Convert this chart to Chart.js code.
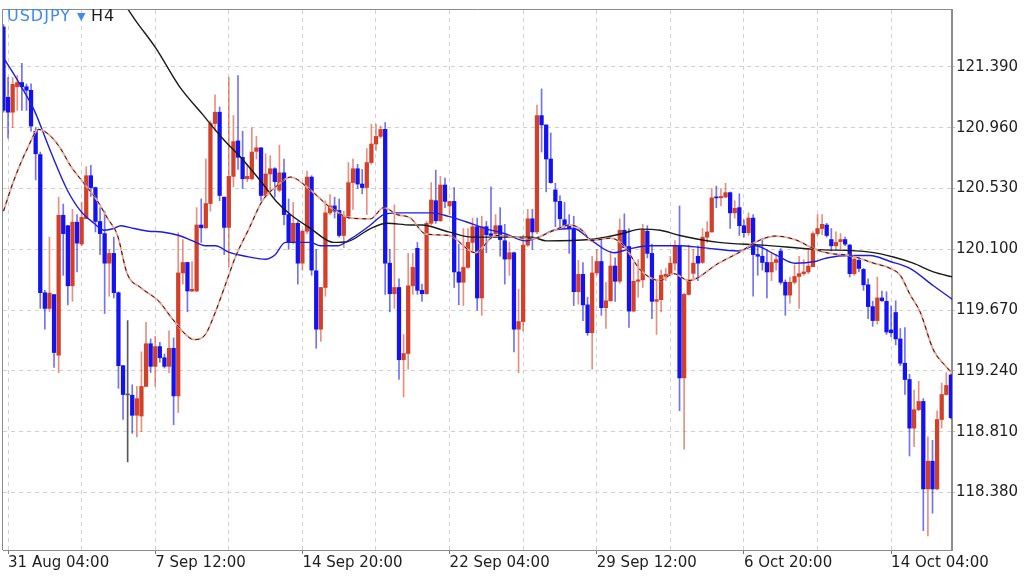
<!DOCTYPE html>
<html>
<head>
<meta charset="utf-8">
<script src="https://cdn.jsdelivr.net/npm/chart.js@4.4.1/dist/chart.umd.min.js"></script>
<style>
  html, body { margin: 0; padding: 0; background: #fff; }
  #wrap { width: 1024px; height: 576px; position: relative; }
</style>
</head>
<body>
<div id="wrap"><canvas id="chart"></canvas></div>
<script>
const symbol = "USDJPY";
const period = "H4";

// one label every 32 bars, starting at bar 1
const xLabels = ["31 Aug 04:00", "7 Sep 12:00", "14 Sep 20:00", "22 Sep 04:00", "29 Sep 12:00", "6 Oct 20:00", "14 Oct 04:00"];
const yTicks = [118.38, 118.81, 119.24, 119.67, 120.10, 120.53, 120.96, 121.39];

// ---------- candles (H4) ----------
const opens = [
  121.673,121.176,121.07,121.25,121.28,121.25,121.225,120.935,120.77,119.793,
  119.682,119.78,119.351,120.341,120.267,119.842,120.292,120.137,120.316,120.621,
  120.537,120.297,120.211,120.002,120.071,119.793,119.277,119.07,119.068,118.926,
  118.921,119.13,119.432,119.272,119.412,119.333,119.272,119.40,119.063,119.933,
  120.007,119.805,119.805,120.272,120.252,120.424,120.99,121.07,120.469,120.255,
  120.616,120.867,120.751,120.599,120.599,120.793,120.818,120.481,120.633,120.67,
  120.518,120.641,120.346,120.154,120.284,120.002,120.228,120.611,119.948,119.535,
  119.83,120.358,120.407,120.375,120.198,120.334,120.572,120.67,120.562,120.537,
  120.714,120.845,120.899,120.948,120.002,119.786,119.83,119.319,119.363,119.842,
  120.107,119.81,119.786,120.284,120.444,120.302,120.555,120.407,120.439,119.94,
  119.867,119.972,120.149,120.26,119.756,120.26,120.21,120.21,120.267,120.161,
  120.031,120.076,119.535,119.589,120.13,120.316,120.223,121.046,120.98,120.739,
  120.52,120.439,120.309,120.267,120.247,119.80,119.923,119.707,119.51,119.933,
  120.014,119.687,119.736,119.982,119.874,120.235,120.12,119.663,119.874,119.884,
  120.228,120.071,119.732,119.744,119.908,119.923,120.002,120.125,119.191,119.781,
  119.93,120.051,120.007,120.186,120.223,120.469,120.464,120.469,120.501,120.358,
  120.395,120.267,120.218,120.321,120.063,120.051,120.007,119.94,120.007,120.088,
  119.867,119.776,119.867,119.908,119.928,119.94,119.977,120.211,120.247,120.272,
  120.169,120.125,120.154,120.169,120.13,119.928,120.022,119.958,119.849,119.695,
  119.596,119.756,119.732,119.53,119.653,119.466,119.294,119.179,118.835,118.965,
  119.024,118.405,118.601,118.405,118.896,119.073,119.211
];
const highs = [
  121.69,121.316,121.316,121.33,121.415,121.27,121.27,120.96,120.788,119.81,
  120.186,119.78,120.469,120.42,120.27,120.383,120.346,120.432,120.685,120.695,
  120.54,120.395,120.37,120.10,120.186,119.80,119.28,119.596,119.142,119.13,
  119.375,119.584,119.466,119.486,119.442,119.36,119.523,119.474,120.218,120.169,
  120.01,120.014,120.395,120.456,120.739,121.009,121.193,121.107,120.47,121.316,
  121.046,121.329,120.935,120.702,120.96,120.899,120.82,120.776,120.763,120.678,
  120.837,120.739,120.456,120.432,120.297,120.235,120.653,120.621,120.10,119.83,
  120.444,120.488,120.469,120.456,120.37,120.714,120.739,120.702,120.665,120.813,
  120.985,120.985,120.972,120.997,120.10,120.415,119.891,119.498,120.071,120.071,
  120.149,119.854,120.297,120.572,120.66,120.616,120.604,120.44,120.537,120.137,
  120.247,120.247,120.321,120.321,120.334,120.297,120.542,120.346,120.395,120.277,
  120.149,120.08,119.818,120.198,120.383,120.383,121.12,121.235,120.98,120.923,
  120.567,120.481,120.432,120.346,120.334,120.022,120.007,119.761,120.051,120.10,
  120.186,119.867,120.088,120.039,120.316,120.351,120.247,120.002,120.027,120.277,
  120.267,120.137,119.879,119.953,119.965,120.051,120.161,120.407,119.79,120.13,
  120.10,120.125,120.247,120.297,120.53,120.547,120.53,120.567,120.505,120.444,
  120.493,120.309,120.358,120.346,120.125,120.179,120.10,120.076,120.063,120.105,
  119.884,119.904,119.99,120.051,120.027,120.10,120.223,120.346,120.346,120.284,
  120.247,120.223,120.211,120.186,120.137,120.051,120.039,119.965,119.891,119.732,
  119.904,119.805,119.80,119.70,119.736,119.54,119.547,119.216,119.105,119.166,
  119.044,118.773,118.749,118.958,119.154,119.228,119.22
];
const lows = [
  121.07,120.886,120.96,121.083,121.083,121.083,120.935,120.591,119.682,119.535,
  119.66,119.265,119.228,119.916,119.707,119.732,119.94,120.125,120.316,120.474,
  120.223,120.063,119.646,119.768,119.756,119.117,118.896,118.596,118.798,118.773,
  118.81,119.13,119.228,119.13,119.302,119.26,119.228,118.859,118.945,119.854,
  119.658,119.80,119.80,120.149,120.247,120.37,120.935,120.444,120.063,119.977,
  120.542,120.665,120.53,120.579,120.591,120.739,120.444,120.469,120.493,120.469,
  120.506,120.272,120.10,120.137,119.854,119.953,120.211,119.916,119.40,119.449,
  119.768,120.346,120.321,120.186,120.112,120.316,120.383,120.53,120.493,120.346,
  120.702,120.80,120.886,119.781,119.658,119.682,119.179,119.056,119.252,119.781,
  119.781,119.732,119.781,120.272,120.284,120.297,120.395,120.346,119.83,119.707,
  119.702,119.965,120.076,119.67,119.633,120.076,120.174,120.198,120.051,119.854,
  119.916,119.375,119.228,119.523,120.12,120.10,120.211,120.788,120.506,120.567,
  120.26,120.26,120.247,120.071,119.702,119.712,119.596,119.491,119.252,119.916,
  119.633,119.54,119.732,119.732,119.859,120.11,119.547,119.658,119.761,119.83,
  120.039,119.609,119.498,119.658,119.879,119.916,119.953,118.958,118.687,119.776,
  119.891,119.879,120.0,120.149,120.22,120.395,120.407,120.469,120.247,120.321,
  120.198,120.186,120.198,119.768,119.916,119.953,119.756,119.879,119.953,119.854,
  119.633,119.719,119.854,119.682,119.916,119.928,119.977,120.198,120.203,120.186,
  120.088,120.10,120.10,120.125,119.904,119.916,119.94,119.81,119.609,119.555,
  119.572,119.732,119.498,119.48,119.424,119.277,119.073,118.638,118.704,118.958,
  118.11,118.073,118.233,118.40,118.835,119.068,118.90
];
const closes = [
  121.083,121.07,121.267,121.28,121.25,121.225,120.972,120.776,119.793,119.682,
  119.79,119.37,120.341,120.211,119.842,120.292,120.144,120.326,120.621,120.537,
  120.297,120.211,120.002,120.071,119.793,119.277,119.073,119.07,118.926,119.044,
  119.13,119.432,119.272,119.412,119.333,119.272,119.40,119.063,119.933,120.007,
  119.805,119.817,120.272,120.252,120.424,120.99,121.07,120.481,120.255,120.616,
  120.862,120.751,120.599,120.616,120.788,120.818,120.481,120.633,120.67,120.579,
  120.641,120.346,120.154,120.284,120.002,120.228,120.611,119.953,119.535,119.83,
  120.358,120.407,120.37,120.198,120.334,120.572,120.67,120.562,120.537,120.714,
  120.845,120.899,120.948,120.002,119.786,119.83,119.319,119.363,119.842,119.972,
  119.81,119.786,120.284,120.449,120.302,120.555,120.439,120.439,119.94,119.867,
  119.972,120.149,120.26,119.756,120.26,120.203,120.198,120.267,120.169,120.031,
  120.076,119.535,119.589,120.13,120.316,120.223,121.046,120.98,120.739,120.572,
  120.439,120.316,120.267,120.247,119.80,119.923,119.707,119.51,119.933,120.014,
  119.687,119.736,119.982,119.874,120.235,120.112,119.663,119.874,119.884,120.235,
  120.071,119.732,119.744,119.916,119.923,120.002,120.125,119.191,119.781,119.884,
  120.002,120.002,120.186,120.223,120.464,120.464,120.474,120.501,120.358,120.39,
  120.267,120.218,120.321,120.063,120.051,120.007,119.94,120.007,120.027,119.867,
  119.776,119.867,119.908,119.928,119.94,119.982,120.211,120.247,120.277,120.198,
  120.125,120.149,120.169,120.137,119.928,120.031,119.965,119.849,119.695,119.596,
  119.756,119.736,119.515,119.51,119.466,119.294,119.179,118.835,118.965,119.024,
  118.405,118.601,118.405,118.896,119.073,119.137,118.909
];

// ---------- moving averages (x = bar index) ----------
const slowX = [22, 28.7, 33.1, 38.2, 43.2, 47.6, 51.9, 56.3, 59.2, 62.4, 66.8, 71.8, 74.7, 79.8, 83.4, 88.5, 91, 96.8, 101.9, 107, 114.9, 118, 127.6, 134.4, 138.5, 142.8, 147.1, 155.5, 164.9, 176.5, 188.4, 193.5, 197.8, 202.2, 206.4];
const slowY = [122.05, 121.72, 121.525, 121.255, 121.058, 120.886, 120.739, 120.567, 120.444, 120.346, 120.247, 120.149, 120.154, 120.247, 120.284, 120.272, 120.272, 120.223, 120.186, 120.186, 120.186, 120.16, 120.169, 120.21, 120.243, 120.235, 120.198, 120.149, 120.13, 120.10, 120.08, 120.046, 120.002, 119.94, 119.904];

const midX = [0, 3.8, 6.7, 10.3, 13.9, 16.8, 19.7, 21.9, 24, 25.5, 28.4, 31.6, 34.5, 38.2, 41, 43.9, 46.1, 49, 52.6, 57, 59, 61.3, 66.8, 68.9, 72.6, 75.5, 79.8, 82.7, 85.6, 88.5, 93.2, 96.8, 100.4, 104.8, 109.1, 113.5, 116.4, 119.6, 124, 127.6, 132.7, 136.3, 140.6, 147.1, 151.9, 159.8, 163.4, 167.8, 172.1, 176.5, 179, 184.1, 188.4, 192.8, 197.1, 202.2, 206.4];
const midY = [121.456, 121.255, 121.083, 120.788, 120.518, 120.37, 120.284, 120.235, 120.247, 120.267, 120.247, 120.228, 120.223, 120.198, 120.161, 120.125, 120.125, 120.08, 120.051, 120.03, 120.06, 120.149, 120.149, 120.125, 120.125, 120.174, 120.272, 120.346, 120.358, 120.358, 120.358, 120.333, 120.297, 120.247, 120.21, 120.16, 120.186, 120.235, 120.247, 120.169, 120.076, 120.105, 120.125, 120.125, 120.112, 120.088, 120.125, 120.063, 120.002, 120.014, 120.039, 120.056, 120.056, 120.014, 119.965, 119.842, 119.744];

const fastX = [0, 2.3, 5.2, 7.7, 10.3, 12.4, 14.6, 17.5, 20.4, 22.6, 24.8, 26.9, 29.8, 33.8, 36.7, 39.6, 41.4, 43.9, 46.1, 48.3, 50.5, 53.4, 56.3, 59.2, 62.4, 66.8, 71.1, 75.5, 79.8, 82.7, 85.6, 88.5, 91.7, 96.8, 102.6, 107, 111.3, 114.9, 118.9, 123.2, 126.2, 127.6, 132, 134.9, 138.5, 142.8, 145.7, 149, 155.5, 160.5, 163.4, 167.8, 172.1, 176.5, 179.7, 184.1, 189.2, 192.8, 195, 197.1, 199.3, 202.2, 205.1, 206.4];
const fastY = [120.37, 120.591, 120.813, 120.948, 120.899, 120.813, 120.69, 120.567, 120.444, 120.321, 120.198, 119.928, 119.83, 119.732, 119.609, 119.498, 119.461, 119.498, 119.658, 119.854, 120.051, 120.247, 120.444, 120.542, 120.611, 120.518, 120.395, 120.321, 120.316, 120.395, 120.346, 120.321, 120.21, 120.198, 120.076, 120.198, 120.186, 120.174, 120.223, 120.272, 120.223, 120.161, 120.179, 120.125, 119.953, 119.879, 119.928, 119.879, 120.002, 120.088, 120.149, 120.194, 120.169, 120.10, 120.071, 120.056, 120.002, 119.965, 119.916, 119.781, 119.658, 119.388, 119.265, 119.22];

const RED = "#d3402a";
const BLUE = "#1212f2";
const DOJI = "#555555";

function candleColor(i) {
    const d = closes[i] - opens[i];
    if (Math.abs(d) < 0.003) return DOJI;
    return d > 0 ? RED : BLUE;
}
function wickColor(i) {
    const d = closes[i] - opens[i];
    if (Math.abs(d) < 0.003) return "rgba(60,60,60,0.85)";
    return d > 0 ? "rgba(214,70,45,0.6)" : "rgba(20,20,240,0.6)";
}

const wickData = opens.map((o, i) => ({ x: i, y: [lows[i], highs[i]] }));
const bodyData = opens.map((o, i) => ({ x: i, y: [Math.min(o, closes[i]), Math.max(o, closes[i])] }));
const toPoints = (xs, ys) => xs.map((x, i) => ({ x: x, y: ys[i] }));

const gridBars = [];
for (let b = 1; b <= 206; b += 16) gridBars.push(b);

const isLabelled = v => Number.isInteger((v - 1) / 32);

const tickFont = { family: "DejaVu Sans", size: 15 };

// top and left frame lines
const framePlugin = {
    id: "frame",
    beforeDatasetsDraw(chart) {
        const { ctx, chartArea: a } = chart;
        ctx.save();
        ctx.strokeStyle = "#8c8c8c";
        ctx.lineWidth = 1;
        ctx.beginPath();
        ctx.moveTo(a.left - 0.5, a.bottom);
        ctx.lineTo(a.left - 0.5, a.top - 0.5);
        ctx.lineTo(a.right, a.top - 0.5);
        ctx.stroke();
        ctx.restore();
    }
};

// symbol / timeframe caption
const captionPlugin = {
    id: "caption",
    afterDraw(chart) {
        const ctx = chart.ctx;
        ctx.save();
        ctx.textBaseline = "alphabetic";
        ctx.textAlign = "left";
        ctx.font = '16px "DejaVu Sans"';
        ctx.letterSpacing = "1px";
        ctx.fillStyle = "#3d8af2";
        ctx.fillText(symbol, 7, 21);
        ctx.letterSpacing = "0px";
        ctx.font = '11px "DejaVu Sans"';
        ctx.fillText("\u25BC", 77, 20);
        ctx.font = '16px "DejaVu Sans"';
        ctx.letterSpacing = "1px";
        ctx.fillStyle = "#1e1e1e";
        ctx.fillText(period, 91, 21);
        ctx.restore();
    }
};

const lineBase = { type: "line", pointRadius: 0, fill: false, cubicInterpolationMode: "monotone" };

new Chart(document.getElementById("chart"), {
    type: "bar",
    data: {
        datasets: [
            Object.assign({}, lineBase, { label: "fast dash", data: toPoints(fastX, fastY), borderColor: "#1a1a1a", borderWidth: 1, borderDash: [4, 4], order: 0 }),
            Object.assign({}, lineBase, { label: "fast", data: toPoints(fastX, fastY), borderColor: "#f2a090", borderWidth: 1.8, order: 1 }),
            Object.assign({}, lineBase, { label: "mid", data: toPoints(midX, midY), borderColor: "#1c1ce6", borderWidth: 1.4, order: 2 }),
            Object.assign({}, lineBase, { label: "slow", data: toPoints(slowX, slowY), borderColor: "#1a1a1a", borderWidth: 1.4, order: 3 }),
            {
                type: "bar", label: "body", data: bodyData, grouped: false, order: 4,
                barThickness: 3.6, minBarLength: 1, borderWidth: 0,
                backgroundColor: c => candleColor(c.dataIndex)
            },
            {
                type: "bar", label: "wick", data: wickData, grouped: false, order: 5,
                barThickness: 1, borderWidth: 0,
                backgroundColor: c => wickColor(c.dataIndex)
            }
        ]
    },
    options: {
        responsive: true,
        maintainAspectRatio: false,
        devicePixelRatio: 1,
        animation: false,
        layout: { padding: { left: 3, top: 3, right: 0, bottom: 0 } },
        plugins: {
            legend: { display: false },
            tooltip: { enabled: false }
        },
        scales: {
            x: {
                type: "linear",
                offset: false,
                min: -0.1,
                max: 206.24,
                afterBuildTicks: s => { s.ticks = gridBars.map(v => ({ value: v })); },
                afterFit: s => { s.height = 26; },
                ticks: {
                    autoSkip: false,
                    maxRotation: 0,
                    align: "start",
                    padding: 0,
                    color: "#1e1e1e",
                    font: tickFont,
                    callback: v => (isLabelled(v) ? xLabels[(v - 1) / 32] : "")
                },
                grid: {
                    offset: false,
                    color: "#d2d2d2",
                    tickLength: 4,
                    tickBorderDash: [],
                    tickColor: c => (c.tick && isLabelled(c.tick.value) ? "#777" : "rgba(0,0,0,0)")
                },
                border: { color: "#8c8c8c", width: 1, dash: [4, 4] }
            },
            y: {
                type: "linear",
                position: "right",
                min: 117.973,
                max: 121.793,
                afterBuildTicks: s => { s.ticks = yTicks.map(v => ({ value: v })); },
                afterFit: s => { s.width = 72; },
                ticks: {
                    padding: 1,
                    color: "#1e1e1e",
                    font: tickFont,
                    callback: v => v.toFixed(3)
                },
                grid: {
                    color: "#d2d2d2",
                    tickLength: 3,
                    tickBorderDash: [],
                    tickColor: "#c4c4c4"
                },
                border: { color: "#8c8c8c", width: 2, dash: [4, 4] }
            }
        }
    },
    plugins: [framePlugin, captionPlugin]
});
</script>
</body>
</html>
